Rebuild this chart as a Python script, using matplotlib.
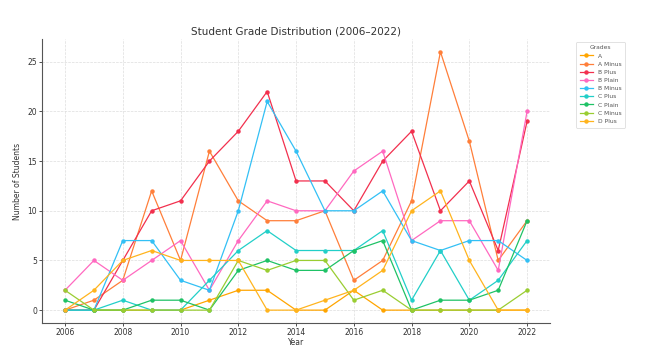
import matplotlib
matplotlib.use("Agg")
import matplotlib.pyplot as plt

years = list(range(2006, 2023))

grade_a       = [0, 0, 0, 0, 0, 1, 2, 2, 0, 0, 2, 0, 0, 0, 0, 0, 0]
grade_a_minus = [0, 1, 3, 12, 5, 16, 11, 9, 9, 10, 3, 5, 11, 26, 17, 5, 9]
grade_b_plus  = [0, 0, 5, 10, 11, 15, 18, 22, 13, 13, 10, 15, 18, 10, 13, 6, 19]
grade_b_plain = [2, 5, 3, 5, 7, 2, 7, 11, 10, 10, 14, 16, 7, 9, 9, 4, 20]
grade_b_minus = [0, 0, 7, 7, 3, 2, 10, 21, 16, 10, 10, 12, 7, 6, 7, 7, 5]
grade_c_plus  = [0, 0, 1, 0, 0, 3, 6, 8, 6, 6, 6, 8, 1, 6, 1, 3, 7]
grade_c_plain = [1, 0, 0, 1, 1, 0, 4, 5, 4, 4, 6, 7, 0, 1, 1, 2, 9]
grade_c_minus = [2, 0, 0, 0, 0, 0, 5, 4, 5, 5, 1, 2, 0, 0, 0, 0, 2]
grade_d_plus  = [0, 2, 5, 6, 5, 5, 5, 0, 0, 1, 2, 4, 10, 12, 5, 0, 0]

series = [
    ("A", grade_a, "#FFA500"),
    ("A Minus", grade_a_minus, "#FF7F3A"),
    ("B Plus", grade_b_plus, "#F2304E"),
    ("B Plain", grade_b_plain, "#FF69C0"),
    ("B Minus", grade_b_minus, "#33C0F5"),
    ("C Plus", grade_c_plus, "#22CFC8"),
    ("C Plain", grade_c_plain, "#1FC266"),
    ("C Minus", grade_c_minus, "#9ACD32"),
    ("D Plus", grade_d_plus, "#FFB41E"),
]

fig = plt.figure(figsize=(6.45, 3.5), dpi=100)
ax = fig.add_axes([0.065, 0.077, 0.788, 0.812])

for name, vals, col in series:
    ax.plot(years, vals, color=col, marker="o", markersize=2.2,
            linewidth=0.9, label=name)

ax.set_title("Student Grade Distribution (2006\u20132022)", fontsize=7.5,
             color="#333333", pad=3)
ax.set_xlabel("Year", fontsize=5.5, color="#333333", labelpad=1)
ax.set_ylabel("Number of Students", fontsize=5.5, color="#333333", labelpad=4)
ax.set_xticks(range(2006, 2023, 2))
ax.set_yticks([0, 5, 10, 15, 20, 25])
ax.tick_params(labelsize=5.5, colors="#333333", length=2, width=0.6, pad=1.5)
ax.grid(True, linestyle="--", linewidth=0.5, color="#dddddd")
for side in ("top", "right"):
    ax.spines[side].set_visible(False)
for side in ("left", "bottom"):
    ax.spines[side].set_color("#555555")
    ax.spines[side].set_linewidth(0.8)

leg = ax.legend(title="Grades", loc="upper left", bbox_to_anchor=(1.045, 1.0),
                fontsize=4.3, title_fontsize=4.3, frameon=True, borderpad=0.6,
                labelspacing=0.5, handlelength=2.2)
leg.get_frame().set_linewidth(0.5)
leg.get_frame().set_edgecolor("#cccccc")
for t in leg.get_texts():
    t.set_color("#555555")
leg.get_title().set_color("#555555")

fig.savefig("out.png", dpi=100)
